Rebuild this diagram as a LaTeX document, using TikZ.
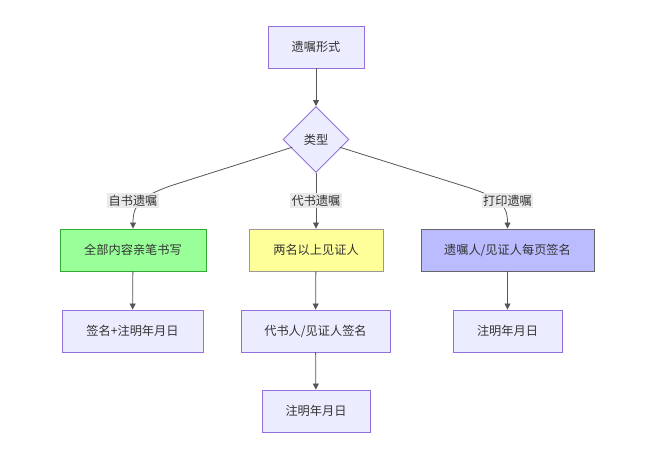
\documentclass[tikz,border=0pt]{standalone}
\usepackage{fontspec}
\setmainfont{Noto Sans CJK SC}
\usetikzlibrary{shapes.geometric,arrows.meta}
\definecolor{nfill}{HTML}{ECECFF}
\definecolor{nstroke}{HTML}{9370DB}
\definecolor{gfill}{HTML}{99FF99}
\definecolor{gstroke}{HTML}{33AA33}
\definecolor{yfill}{HTML}{FFFF99}
\definecolor{ystroke}{HTML}{999999}
\definecolor{bfill}{HTML}{BBBBFF}
\definecolor{bstroke}{HTML}{666666}
\definecolor{edgec}{HTML}{555555}
\definecolor{labbg}{HTML}{E8E8E8}
\definecolor{txt}{HTML}{333333}
\tikzset{
  box/.style={rectangle, draw=nstroke, fill=nfill, line width=0.9pt, minimum height=42pt, inner sep=0pt, text=txt, font=\fontsize{12.2pt}{14pt}\selectfont},
  dia/.style={diamond, draw=nstroke, fill=nfill, line width=0.9pt, minimum width=66pt, minimum height=66pt, inner sep=0pt, text=txt, font=\fontsize{12.2pt}{14pt}\selectfont},
  lab/.style={fill=labbg, fill opacity=0.9, text opacity=1, inner sep=1.5pt, text=txt, font=\fontsize{12.2pt}{14pt}\selectfont},
  conn/.style={draw=edgec, line width=0.8pt, -{Triangle[length=6pt,width=6pt]}},
}
\begin{document}
\begin{tikzpicture}[x=1pt,y=-1pt]
\useasboundingbox (0,0) rectangle (645,465);
\node[box, minimum width=96pt] (top) at (316,47) {遗嘱形式};
\node[dia] (typ) at (316,139.5) {类型};
\node[box, minimum width=146pt, fill=gfill, draw=gstroke] (g) at (133,250) {全部内容亲笔书写};
\node[box, minimum width=134pt, fill=yfill, draw=ystroke] (y) at (316,250) {两名以上见证人};
\node[box, minimum width=173pt, fill=bfill, draw=bstroke] (b) at (507.5,250) {遗嘱人/见证人每页签名};
\node[box, minimum width=141pt] (g2) at (132.5,331) {签名+注明年月日};
\node[box, minimum width=149pt] (y2) at (315.5,331) {代书人/见证人签名};
\node[box, minimum width=109pt] (b2) at (507.5,331) {注明年月日};
\node[box, minimum width=108pt] (y3) at (316,411) {注明年月日};

\draw[conn] (top) -- (typ);
\draw[conn] (typ.south west) ++(-7,-9) coordinate (sl) (sl) -- (170,186) .. controls (140,197) and (133,205) .. (g.north);
\draw[conn] (typ) -- (y);
\draw[conn] (typ.south east) ++(7,-9) coordinate (sr) (sr) -- (470,188) .. controls (500,198) and (507.5,205) .. (b.north);
\draw[conn] (g) -- (g2);
\draw[conn] (y) -- (y2);
\draw[conn] (b) -- (b2);
\draw[conn] (y2) -- (y3);

\node[lab] (l1) at (133,200.5) {自书遗嘱};
\node[lab] (l2) at (316,200.5) {代书遗嘱};
\node[lab] (l3) at (507.5,200.5) {打印遗嘱};
\end{tikzpicture}
\end{document}
